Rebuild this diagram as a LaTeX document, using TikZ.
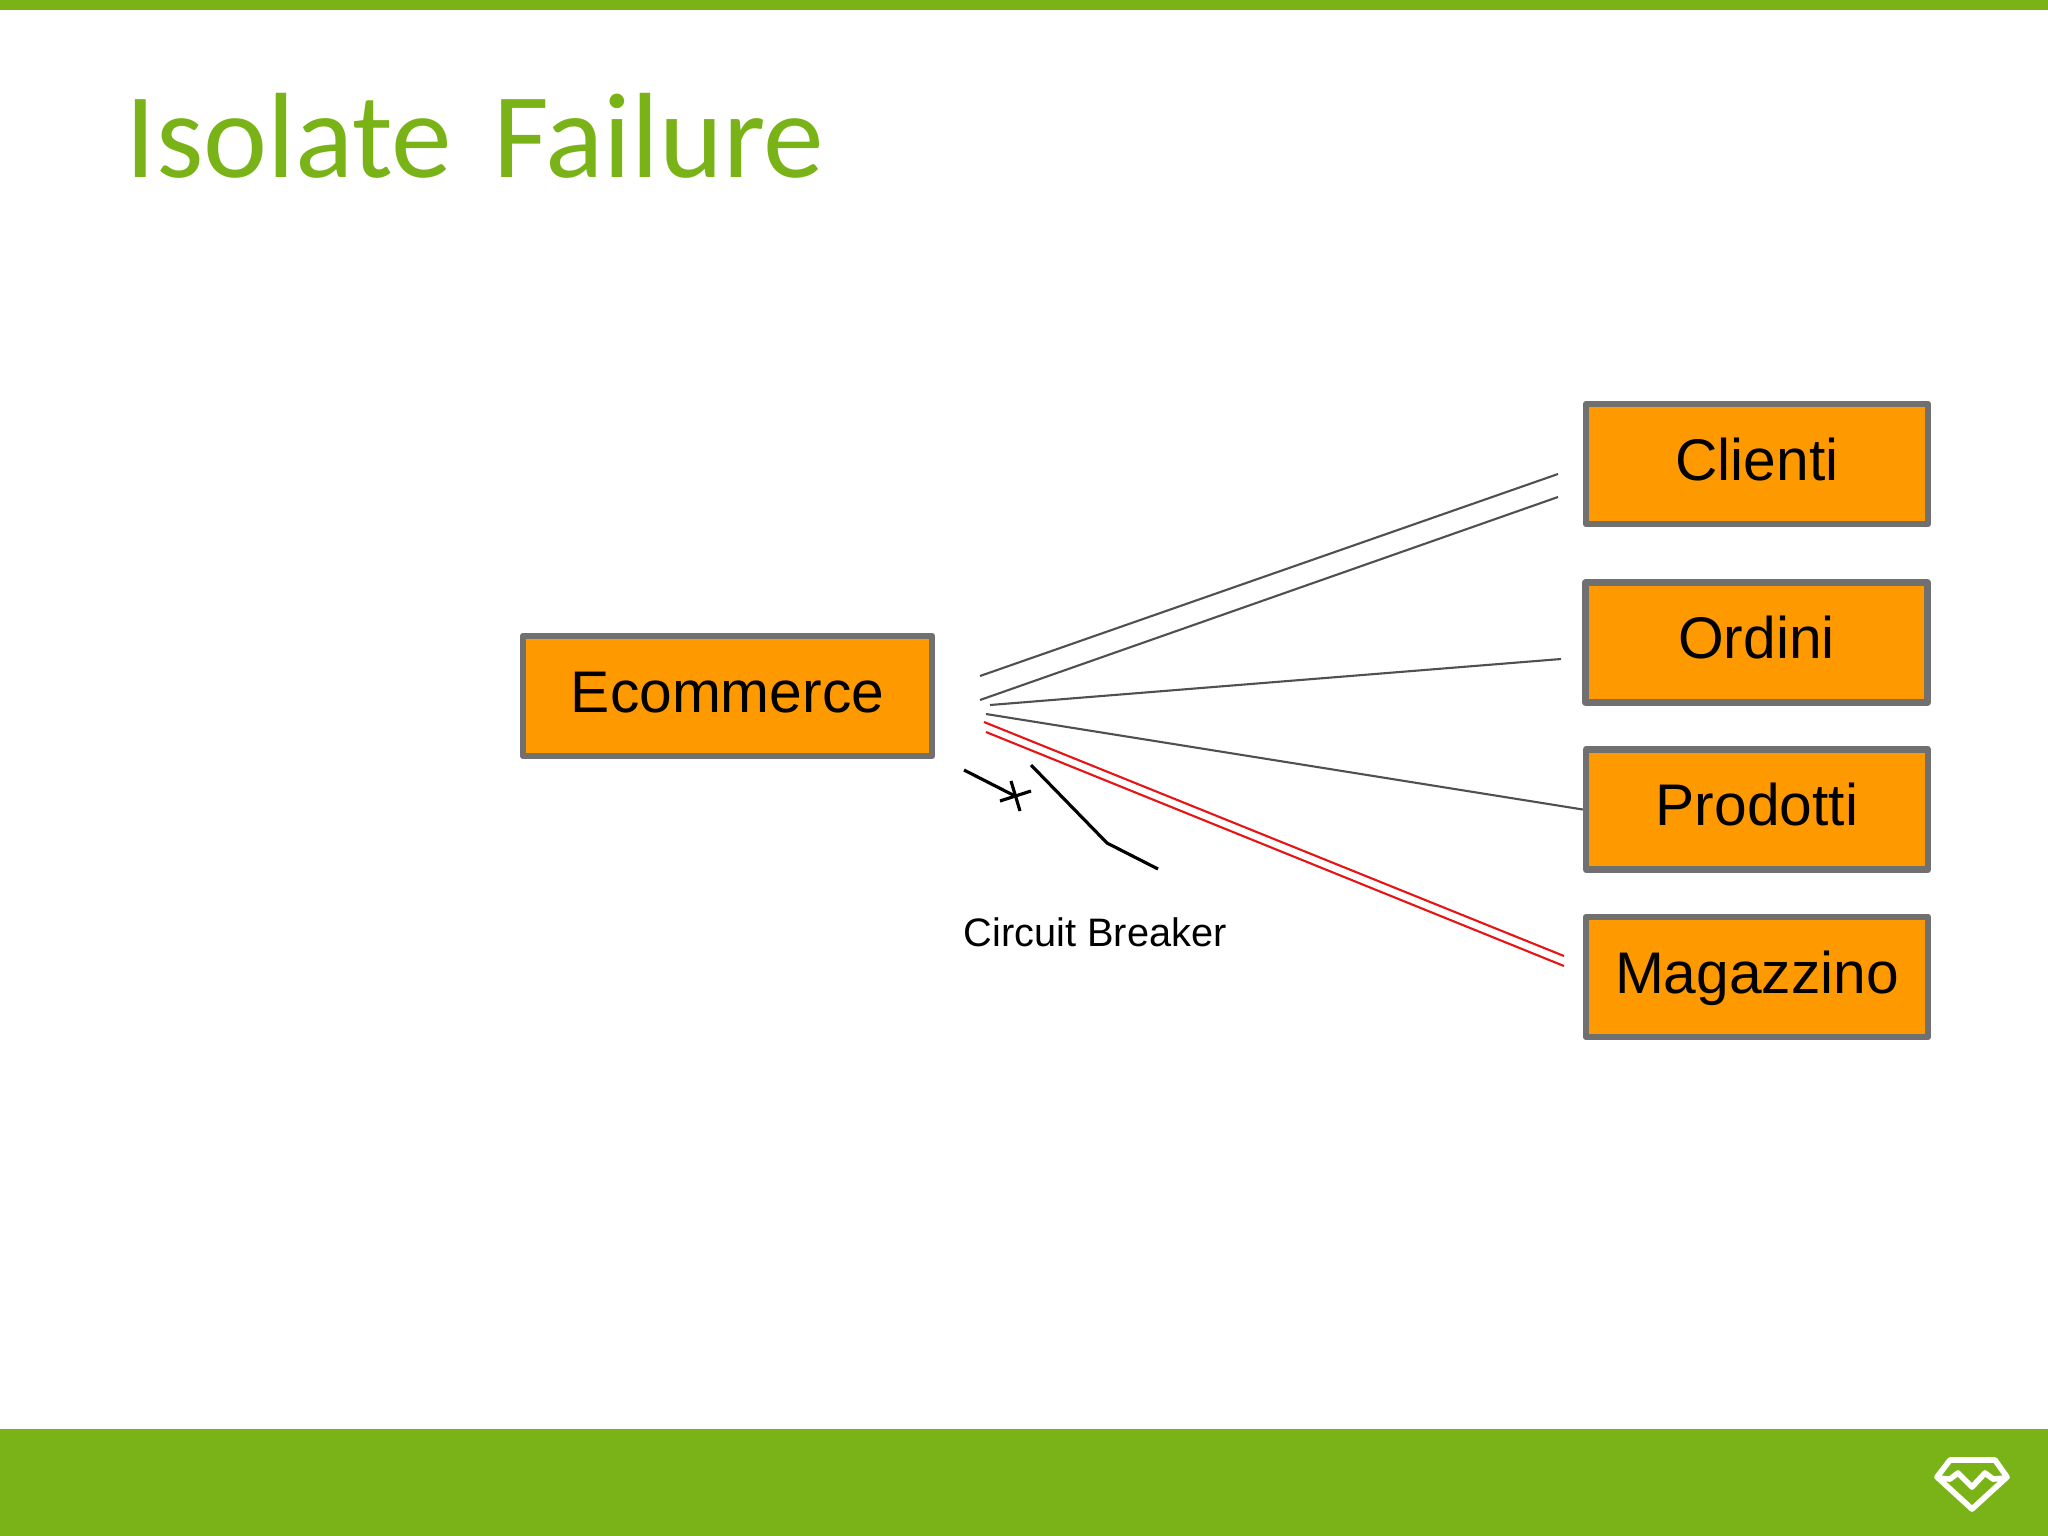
\documentclass[tikz,border=0pt]{standalone}
\usepackage{xcolor}
\usepackage{fontspec}
\setmainfont{Liberation Sans}
\newfontfamily\titlefont[WordSpace=1.5]{Carlito}
\definecolor{mygreen}{RGB}{122,179,23}
\definecolor{myorange}{RGB}{255,153,0}
\definecolor{mygrey}{RGB}{112,112,112}
\definecolor{mywire}{RGB}{80,80,80}
\definecolor{myred}{RGB}{230,20,20}
\tikzset{
  block/.style={rectangle, draw=mygrey, fill=myorange,
    minimum width=3.42cm, minimum height=1.2cm, text height=0.42cm, text depth=0.10cm,
    inner sep=0pt, font=\fontsize{16.7}{20}\selectfont, line join=round, line width=1.8pt},
  wire/.style={line width=0.6pt, color=mywire},
  redwire/.style={line width=0.6pt, color=myred},
  switch/.style={line width=0.9pt, color=black},
  band/.style={fill=mygreen, draw=none},
  logo/.style={line width=1.6pt, color=white, line join=round}
}
\begin{document}
\begin{tikzpicture}[x=0.01cm, y=-0.01cm]
  \useasboundingbox (0,0) rectangle (2048,1536);
  % Slide bands
  \fill[band] (0,0) rectangle (2048,10);
  \fill[band] (0,1429) rectangle (2048,1536);
  \node[anchor=base west, inner sep=0pt, text=mygreen, font=\titlefont\fontsize{34.5}{40}\selectfont] (title) at (125,177) {Isolate Failure};
  % Services
  \node[block, minimum width=4.09cm] (ecommerce) at (727.5,696) {Ecommerce};
  \node[block] (clienti) at (1757,464) {Clienti};
  \node[block] (ordini) at (1756.5,642.5) {Ordini};
  \node[block] (prodotti) at (1757,809.5) {Prodotti};
  \node[block] (magazzino) at (1757,977) {Magazzino};
  % Free wire ends
  \coordinate (clientiAfrom) at (980,676);
  \coordinate (clientiAto) at (1558,474);
  \coordinate (clientiBfrom) at (980,700);
  \coordinate (clientiBto) at (1558,497);
  \coordinate (ordiniFrom) at (990,705);
  \coordinate (ordiniTo) at (1561,659);
  \coordinate (prodottiFrom) at (986,714);
  \coordinate (magAfrom) at (984,722);
  \coordinate (magAto) at (1564,956);
  \coordinate (magBfrom) at (986,732);
  \coordinate (magBto) at (1564,966);
  \draw[wire] (clientiAfrom) -- (clientiAto);
  \draw[wire] (clientiBfrom) -- (clientiBto);
  \draw[wire] (ordiniFrom) -- (ordiniTo);
  \draw[wire] (prodottiFrom) -- (prodotti.west);
  \draw[redwire] (magAfrom) -- (magAto);
  \draw[redwire] (magBfrom) -- (magBto);
  % Circuit breaker symbol
  \draw[switch] (964,770) -- (1015,796);
  \draw[switch] (1000,801) -- (1031,791);
  \draw[switch] (1011,781) -- (1020,811);
  \draw[switch] (1031,765) -- (1107,843) -- (1158,869);
  \node[anchor=base west, inner sep=0pt, font=\fontsize{11.3}{13}\selectfont] (breaker) at (963,946) {Circuit Breaker};
  % Logo
  \draw[logo] (1950,1460) -- (1995,1460) -- (2007,1477) -- (1972,1509) -- (1937,1477) -- cycle;
  \draw[logo] (1937,1478) -- (1950,1479) -- (1958,1473) -- (1972,1487) -- (1985,1473) -- (1993,1479) -- (2007,1478);
\end{tikzpicture}
\end{document}
